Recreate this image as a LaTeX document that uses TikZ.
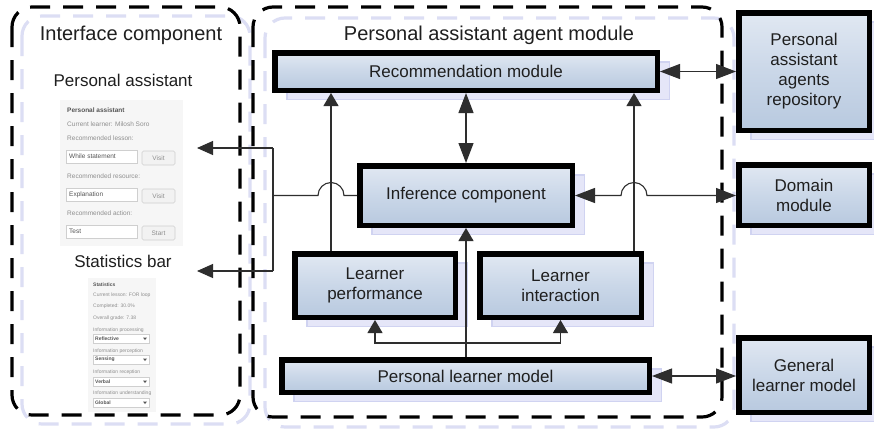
\documentclass[tikz,border=0pt]{standalone}
\usepackage{fontspec}
\setmainfont{Liberation Sans}
\usetikzlibrary{arrows.meta,calc,shadows}
\definecolor{boxlight}{HTML}{E1E8F2}
\definecolor{boxmid}{HTML}{CAD7E8}
\definecolor{boxdark}{HTML}{B8C9DF}
\definecolor{shfill}{HTML}{E5E6F8}
\definecolor{shedge}{HTML}{D0D3F1}
\definecolor{dashsh}{HTML}{DCDEF4}
\definecolor{linegray}{HTML}{2E2E2E}
\definecolor{scrbg}{HTML}{F6F6F6}
\definecolor{scrtext}{HTML}{8E8E8E}
\definecolor{scrdark}{HTML}{555555}
\definecolor{scredge}{HTML}{CFCFCF}
\tikzset{
  modbox/.style={draw=black, line width=5.5pt, top color=boxlight, bottom color=boxdark, middle color=boxmid,
    align=center, font=\fontsize{17}{20}\selectfont, text=black!88, inner sep=0pt,
    general shadow={shadow xshift=12pt, shadow yshift=-9pt, fill=shfill, draw=shedge, line width=1.5pt}},
  conn/.style={draw=linegray, line width=1.1pt},
  sarr/.style={-{Triangle[length=13pt,width=15pt]}},
  larr/.style={-{Triangle[length=16pt,width=14pt]}},
  darr/.style={{Triangle[length=20pt,width=15pt]}-{Triangle[length=20pt,width=15pt]}},
  cont/.style={line width=3.2pt, dash pattern=on 20pt off 13pt, rounded corners=20pt},
  contsh/.style={cont, draw=dashsh},
  ttl/.style={font=\fontsize{20}{24}\selectfont, text=black!88, inner sep=0pt},
  lbl/.style={font=\fontsize{17}{20}\selectfont, text=black!88, inner sep=0pt},
  scr/.style={font=\fontsize{6.5}{7}\selectfont, text=scrtext, anchor=west, inner sep=0pt},
  scrb/.style={scr, text=scrdark, font=\bfseries\fontsize{6.5}{7}\selectfont},
  scrs/.style={font=\fontsize{5}{6}\selectfont, text=scrtext, anchor=west, inner sep=0pt},
  scrsb/.style={scrs, text=scrdark, font=\bfseries\fontsize{5}{6}\selectfont},
  field/.style={draw=scredge, fill=white, line width=0.6pt},
  button/.style={draw=scredge, fill=black!5, line width=0.6pt, rounded corners=1.5pt}
}
\begin{document}
\begin{tikzpicture}[x=1pt,y=-1pt]
\useasboundingbox (0,0) rectangle (874,429);
\fill[white] (0,0) rectangle (874,429);

% container shadows and containers
\draw[contsh] (22,16) rectangle (250,424);
\draw[contsh] (265,18) rectangle (734,427);
\draw[cont] (12,7) rectangle (240,415);
\draw[cont] (253,7) rectangle (722,417);

\node[ttl] (ictitle) at (131,35) {Interface component};
\node[ttl] (amtitle) at (489,35) {Personal assistant agent module};
\node[lbl] (palbl) at (123,80) {Personal assistant};
\node[lbl] (sblbl) at (123,261) {Statistics bar};

% screenshot: personal assistant
\fill[scrbg] (60,100) rectangle (183,246);
\node[scrb] (p1) at (67,110) {Personal assistant};
\node[scr] (p2) at (67,124) {Current learner: Milosh Soro};
\node[scr] (p3) at (67,138) {Recommended lesson:};
\draw[field] (66,150) rectangle (137,163);
\node[scr, text=scrdark] (p4) at (69,156.5) {While statement};
\draw[button] (142,151) rectangle (175,165);
\node[scr, anchor=center] (p5) at (158.5,158) {Visit};
\node[scr] (p6) at (67,176) {Recommended resource:};
\draw[field] (66,188) rectangle (137,201);
\node[scr, text=scrdark] (p7) at (69,194.5) {Explanation};
\draw[button] (142,189) rectangle (175,203);
\node[scr, anchor=center] (p8) at (158.5,196) {Visit};
\node[scr] (p9) at (67,213) {Recommended action:};
\draw[field] (66,225) rectangle (137,238);
\node[scr, text=scrdark] (p10) at (69,231.5) {Test};
\draw[button] (142,226) rectangle (175,240);
\node[scr, anchor=center] (p11) at (158.5,233) {Start};

% screenshot: statistics
\fill[scrbg] (88,278) rectangle (156,412);
\node[scrsb] (s1) at (93,285) {Statistics};
\node[scrs] (s2) at (93,295) {Current lesson: FOR loop};
\node[scrs] (s3) at (93,306) {Completed: 30.0\%};
\node[scrs] (s4) at (93,318) {Overall grade: 7.38};
\node[scrs] (s5) at (93,330) {Information processing};
\draw[field] (93,334) rectangle (149,343);
\node[scrsb] (s6) at (95,338.5) {Reflective};
\fill[scrdark] (143,337.5) -- (147,337.5) -- (145,340) -- cycle;
\node[scrs] (s7) at (93,351) {Information perception};
\draw[field] (93,355) rectangle (149,364);
\node[scrsb] (s8) at (95,359.5) {Sensing};
\fill[scrdark] (143,358.5) -- (147,358.5) -- (145,361) -- cycle;
\node[scrs] (s9) at (93,372) {Information reception};
\draw[field] (93,377) rectangle (149,386);
\node[scrsb] (s10) at (95,381.5) {Verbal};
\fill[scrdark] (143,380.5) -- (147,380.5) -- (145,383) -- cycle;
\node[scrs] (s11) at (93,393) {Information understanding};
\draw[field] (93,398) rectangle (149,407);
\node[scrsb] (s12) at (95,402.5) {Global};
\fill[scrdark] (143,401.5) -- (147,401.5) -- (145,404) -- cycle;

% module boxes
\node[modbox, minimum width=382.5pt, minimum height=37.5pt] (rec) at (466,71.5) {Recommendation module};
\node[modbox, minimum width=212.5pt, minimum height=59.5pt] (inf) at (466,195.5) {Inference component};
\node[modbox, minimum width=160.5pt, minimum height=63.5pt] (lp) at (375,285.5) {Learner\\performance};
\node[modbox, minimum width=161.5pt, minimum height=63.5pt] (li) at (560.5,285.5) {Learner\\interaction};
\node[modbox, minimum width=367.5pt, minimum height=32.5pt] (plm) at (465.5,376) {Personal learner model};
\node[modbox, minimum width=130.5pt, minimum height=117.5pt] (repo) at (804,71.5) {Personal\\assistant\\agents\\repository};
\node[modbox, minimum width=130.5pt, minimum height=60.5pt] (dom) at (804,195) {Domain\\module};
\node[modbox, minimum width=130.5pt, minimum height=74.5pt] (glm) at (804,375) {General\\learner model};

% helper coordinates
\coordinate (xl) at (331,0);
\coordinate (xr) at (634,0);
\coordinate (jt) at (273,148);
\coordinate (jb) at (273,271);
\coordinate (pa) at (197,148);
\coordinate (sb) at (197,271);
\coordinate (br) at (0,343);

% connectors
\draw[conn, darr] (rec.east) -- (repo.west);
\draw[conn, darr] (inf.north |- rec.south) -- (inf.north);
\draw[conn, darr] (inf.east) -- ($(xr |- inf.east)-(13,0)$) arc[start angle=180, end angle=360, radius=13] -- (inf.east -| dom.west);
\draw[conn, darr] (plm.east) -- (plm.east -| glm.west);
\draw[conn, sarr] (xl |- lp.north) -- (xl |- rec.south);
\draw[conn, sarr] (xr |- li.north) -- (xr |- rec.south);
\draw[conn, sarr] (inf.south |- plm.north) -- (inf.south);
\draw[conn] (inf.south |- plm.north) -- (inf.south |- br);
\draw[conn, {Triangle[length=13pt,width=15pt]}-{Triangle[length=13pt,width=15pt]}] (lp.south) -- (lp.south |- br) -- (li.south |- br) -- (li.south);
\draw[conn] (inf.west) -- ($(xl |- inf.west)+(13,0)$) arc[start angle=0, end angle=-180, radius=13] -- (jt |- inf.west);
\draw[conn] (jt) -- (jb);
\draw[conn, larr] (jt) -- (pa);
\draw[conn, larr] (jb) -- (sb);
\end{tikzpicture}
\end{document}
